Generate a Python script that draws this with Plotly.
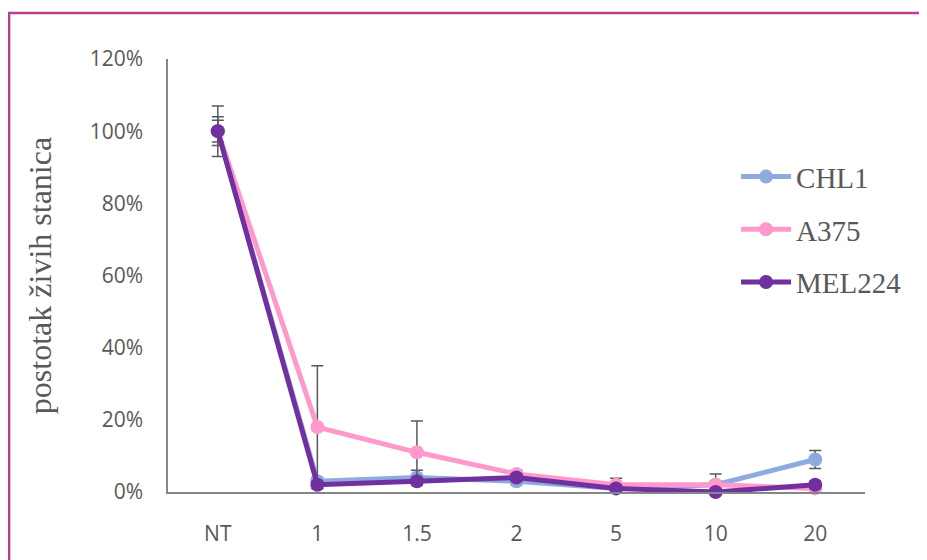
import plotly.graph_objects as go

categories = ["NT", "1", "1.5", "2", "5", "10", "20"]
chl1 = [100, 3, 4, 3, 1, 2, 9]
chl1_err = [7, 1, 2, 1, 1, 3, 2.5]
a375 = [100, 18, 11, 5, 2, 2, 1]
a375_err = [4, 17, 8.7, 1, 1.8, 1, 1]
mel224 = [100, 2, 3, 4, 1, 0, 2]
mel224_err = [3, 1, 1, 1, 1, 1, 1]

series = [
    ("CHL1", chl1, chl1_err, "#8FAADC"),
    ("A375", a375, a375_err, "#FF99CC"),
    ("MEL224", mel224, mel224_err, "#7030A0"),
]

fig = go.Figure()
for i, (name, vals, errs, color) in enumerate(series):
    fig.add_trace(go.Scatter(
        x=categories,
        y=[v / 100 for v in vals],
        name=name,
        legendgroup=name,
        mode="lines+markers",
        line=dict(color=color, width=5),
        marker=dict(color=color, size=14),
        error_y=dict(type="data", array=[e / 100 for e in errs], visible=True,
                     color="#595959", thickness=1.5, width=6),
        cliponaxis=False,
    ))

fig.update_layout(
    width=927, height=560,
    margin=dict(l=160, r=70, t=51, b=76),
    paper_bgcolor="white", plot_bgcolor="white",
    showlegend=True,
    legend=dict(x=0.815, y=0.787, xanchor="left", yanchor="top",
                font=dict(family="Liberation Serif", size=29, color="#595959"),
                itemwidth=50,
                tracegroupgap=12, bgcolor="rgba(0,0,0,0)"),
    shapes=[dict(type="rect", xref="paper", yref="paper",
                 x0=-0.228, y0=1.106, x1=1.3, y1=-0.4,
                 line=dict(color="#B8408F", width=2.5))],
)
fig.update_xaxes(
    type="category", range=[-0.5, 6.5],
    showline=True, linecolor="#868686", linewidth=1.5,
    showgrid=False, ticks="", ticklabelstandoff=22,
    tickfont=dict(family="Open Sans", size=21, color="#595959"),
)
fig.update_yaxes(
    range=[0, 1.2], dtick=0.2, tickformat=".0%",
    showline=True, linecolor="#868686", linewidth=1.5,
    showgrid=False, zeroline=False, ticks="", ticklabelstandoff=19,
    tickfont=dict(family="Open Sans", size=21, color="#595959"),
    title=dict(text="postotak živih stanica", standoff=28,
               font=dict(family="Liberation Serif", size=32, color="#595959")),
)

fig.write_html("out.html")
